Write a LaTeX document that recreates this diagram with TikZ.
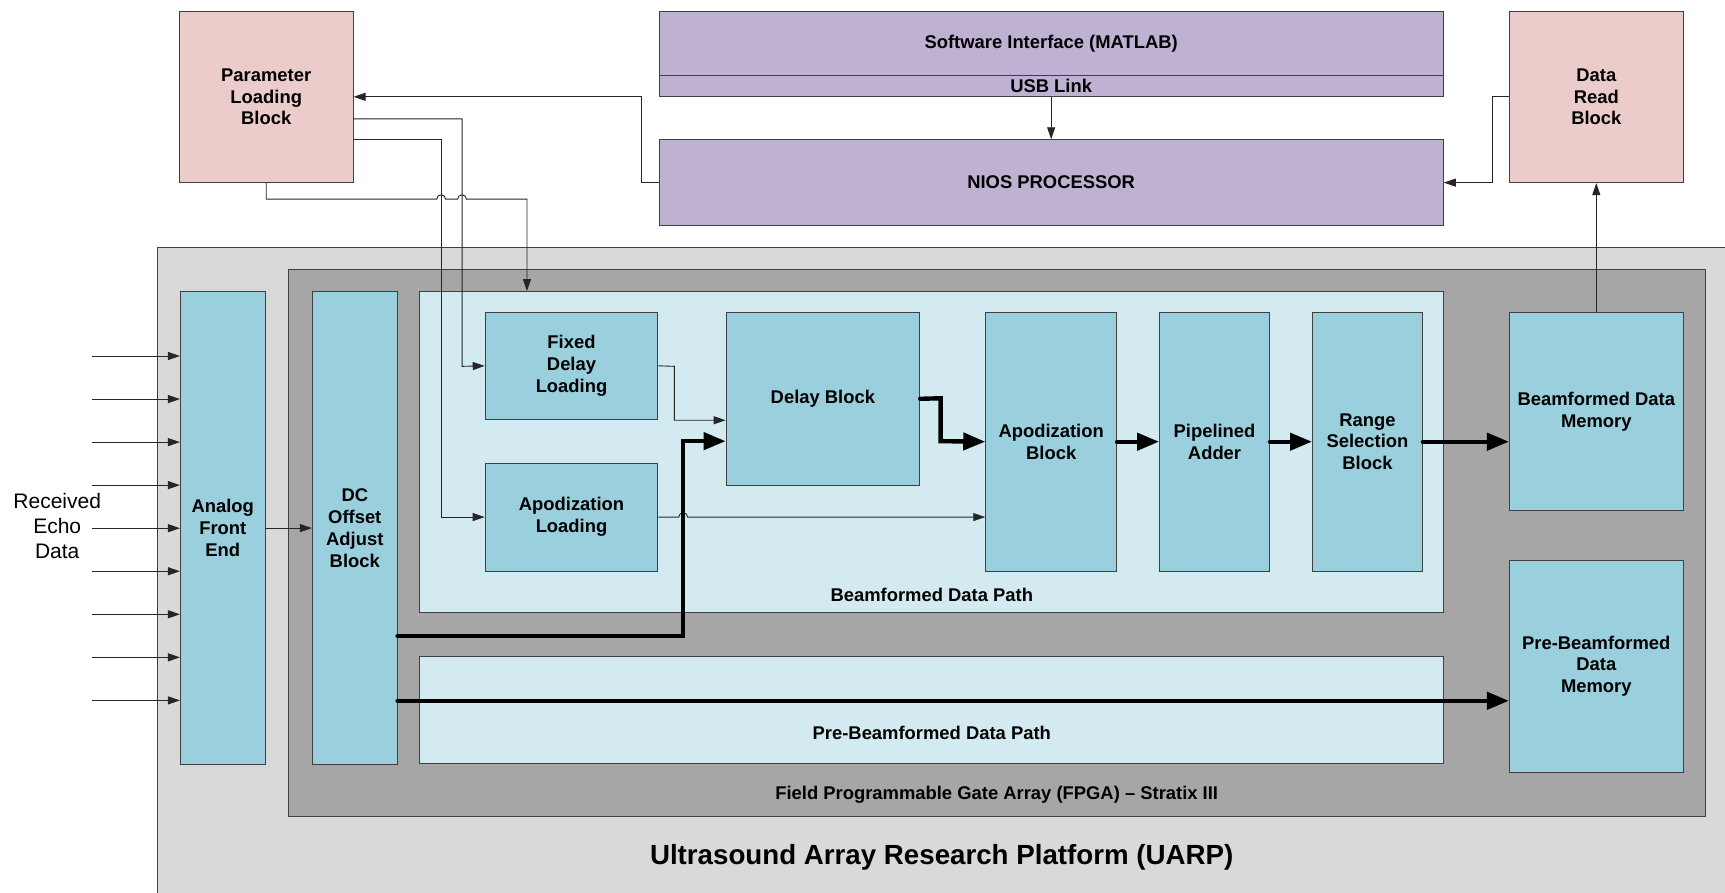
\documentclass[tikz,border=0pt]{standalone}
\usepackage{fontspec}
\setmainfont{Liberation Sans}
\usetikzlibrary{arrows.meta}
\usetikzlibrary{positioning}

\definecolor{pinkblk}{HTML}{EBCCCB}
\definecolor{purpblk}{HTML}{BFB1D2}
\definecolor{cyanblk}{HTML}{9ACFDD}
\definecolor{pathbg}{HTML}{D2EAF0}
\definecolor{uarpbg}{HTML}{D9D9D9}
\definecolor{fpgabg}{HTML}{A6A6A6}

\tikzset{
  blk/.style={draw=black!75, line width=0.9pt, inner sep=0pt, align=center,
    font=\fontsize{18.4}{21.8}\selectfont\bfseries},
  span/.style n args={4}{at={({(#1+#3)/2},{(#2+#4)/2})}, anchor=center,
    minimum width={(#3-#1)*1.1001pt}, minimum height={(#4-#2)*1.1001pt}},
  lbl/.style={inner sep=0pt, align=center, font=\fontsize{18.4}{21.8}\selectfont\bfseries},
  wire/.style={draw=black!85, line width=0.9pt, -{Triangle[length=12pt,width=8pt]}},
  bus/.style={line width=4.4pt, line cap=round, -{Triangle[length=22pt,width=17pt]}},
}

\begin{document}
\begin{tikzpicture}[x=1.1001pt, y=-1.1001pt]
    \clip (0,0) rectangle (1568,811);
    \fill[white] (0,0) rectangle (1568,811);

    % containers
    \node[blk, fill=uarpbg, span={143}{225}{1620}{860}] (uarp) {};
    \node[blk, fill=fpgabg, span={262}{245}{1550}{742}] (fpga) {};
    \node[blk, fill=pathbg, span={381}{265}{1312}{557}] (bfpath) {};
    \node[blk, fill=pathbg, span={381}{597}{1312}{694}] (pbpath) {};
    \node[lbl] (bflabel) at (847,541) {Beamformed Data Path};
    \node[lbl] (pblabel) at (847,666) {Pre-Beamformed Data Path};
    \node[lbl] (fpgalabel) at (906,722) {Field Programmable Gate Array (FPGA) -- Stratix III};
    \node[lbl, font=\fontsize{27.7}{32}\selectfont\bfseries] (uarplabel) at (856,779) {Ultrasound Array Research Platform (UARP)};

    % host side
    \node[blk, fill=pinkblk, span={163}{10}{321}{166}] (plb) {Parameter\\Loading\\Block};
    \node[blk, fill=pinkblk, span={1372}{10}{1530}{166}] (drb) {Data\\Read\\Block};
    \node[blk, fill=purpblk, span={599}{10}{1312}{69}] (sw) {Software Interface (MATLAB)};
    \node[blk, fill=purpblk, span={599}{69}{1312}{88}] (usb) {USB Link};
    \node[blk, fill=purpblk, span={599}{127}{1312}{205}] (nios) {NIOS PROCESSOR};

    % blocks
    \node[blk, fill=cyanblk, span={164}{265}{241}{695}] (afe) {Analog\\Front\\End};
    \node[blk, fill=cyanblk, span={284}{265}{361}{695}] (dc) {DC\\Offset\\Adjust\\Block};
    \node[blk, fill=cyanblk, span={441}{284}{598}{381}] (fdl) {Fixed\\Delay\\Loading};
    \node[blk, fill=cyanblk, span={441}{421}{598}{519}] (al) {Apodization\\Loading};
    \node[blk, fill=cyanblk, span={660}{284}{836}{441}] (delay) {Delay Block};
    \node[blk, fill=cyanblk, span={896}{284}{1015}{519}] (apod) {Apodization\\Block};
    \node[blk, fill=cyanblk, span={1054}{284}{1154}{519}] (adder) {Pipelined\\Adder};
    \node[blk, fill=cyanblk, span={1193}{284}{1293}{519}] (range) {Range\\Selection\\Block};
    \node[blk, fill=cyanblk, span={1372}{284}{1530}{464}] (bdm) {Beamformed Data\\Memory};
    \node[blk, fill=cyanblk, span={1372}{509}{1530}{702}] (pbdm) {Pre-Beamformed\\Data\\Memory};

    % echo inputs
    \node[align=center, inner sep=0pt, font=\fontsize{21}{24.8}\selectfont] (echo) at (52,478) {Received\\Echo\\Data};
    \foreach \i in {0,...,8} {
      \coordinate (in\i) at (84,{323.6+39.13*\i});
      \draw[wire] (in\i) -- (in\i -| afe.west);
    }

    % thin links
    \draw[wire] (afe.east) -- (dc.west);
    \draw[wire] (usb.south) -- (nios.north);
    \draw[wire] (drb.west) -- (1357,88) -- (1357,166) -- (nios.east);
    \draw[wire] (nios.west) -- (583,166) -- (583,88) -- (plb.east);
    \draw[wire] (plb.east |- 0,108) -- (420,108) -- (420,333) -- (fdl.west);
    \draw[wire] (plb.east |- 0,127) -- (401,127) -- (401,470) -- (al.west);
    \draw[wire] (plb.south) -- (242,181) -- (397,181) arc[start angle=180, end angle=360, radius=4]
      -- (416,181) arc[start angle=180, end angle=360, radius=4] -- (479,181) -- (bfpath.north -| 479,0);
    \draw[wire] (fdl.east) -- (613,333) -- (613,382) -- (delay.west |- 0,382);
    \draw[wire] (al.east) -- (617,470) arc[start angle=180, end angle=360, radius=4] -- (apod.west |- al.east);
    \draw[wire] (bdm.north) -- (drb.south);

    % data buses
    \draw[bus] (dc.east |- 0,578) -- (621,578) -- (621,401) -- (delay.west |- 0,401);
    \draw[bus] (delay.east) -- (855,362) -- (855,401) -- (apod.west);
    \draw[bus] (apod.east) -- (adder.west);
    \draw[bus] (adder.east) -- (range.west);
    \draw[bus] (range.east) -- (range.east -| bdm.west);
    \draw[bus] (dc.east |- 0,637) -- (pbdm.west |- 0,637);
\end{tikzpicture}
\end{document}
